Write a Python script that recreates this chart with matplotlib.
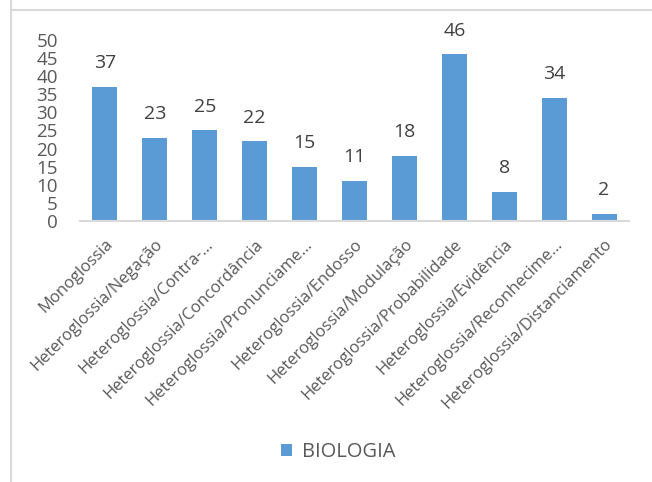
import matplotlib.pyplot as plt
from matplotlib.lines import Line2D

plt.rcParams["font.family"] = ["Open Sans", "DejaVu Sans"]

categorias = [
    "Monoglossia",
    "Heteroglossia/Negação",
    "Heteroglossia/Contra-…",
    "Heteroglossia/Concordância",
    "Heteroglossia/Pronunciame…",
    "Heteroglossia/Endosso",
    "Heteroglossia/Modulação",
    "Heteroglossia/Probabilidade",
    "Heteroglossia/Evidência",
    "Heteroglossia/Reconhecime…",
    "Heteroglossia/Distanciamento",
]
biologia = [37, 23, 25, 22, 15, 11, 18, 46, 8, 34, 2]
yticks = list(range(0, 55, 5))

azul = "#5B9BD5"
cinza = "#D9D9D9"

fig = plt.figure(figsize=(6.52, 4.82), dpi=100)
ax = fig.add_axes([80 / 652, 1 - 221 / 482, 549 / 652, 181 / 482])

x = list(range(len(categorias)))
barras = ax.bar(x, biologia, width=0.5, color=azul, label="BIOLOGIA")

for xi, v in zip(x, biologia):
    ax.annotate(str(v), (xi, v), xytext=(0, 13.5), textcoords="offset points",
                ha="center", va="baseline", fontsize=14, color="#404040")

ax.set_xlim(-0.5, len(categorias) - 0.5)
ax.set_ylim(0, 50)
ax.set_yticks(yticks)
ax.set_yticklabels([str(t) for t in yticks], fontsize=13.5, color="#595959")
ax.set_xticks(x)
ax.set_xticklabels(categorias, rotation=45, ha="right", rotation_mode="anchor",
                   fontsize=12, color="#595959")
ax.tick_params(axis="y", length=0, pad=16)
ax.tick_params(axis="x", length=0, pad=11)

for lado in ["top", "right", "left"]:
    ax.spines[lado].set_visible(False)
ax.spines["bottom"].set_color(cinza)
ax.spines["bottom"].set_linewidth(1.5)

# moldura da área do gráfico
fig.add_artist(Line2D([11 / 652, 1], [1 - 10 / 482] * 2, color=cinza, lw=1.5))
fig.add_artist(Line2D([11 / 652] * 2, [0, 1], color=cinza, lw=1.5))

fig.legend(handles=[barras], loc="center", bbox_to_anchor=(338 / 652, 1 - 452 / 482),
           frameon=False, fontsize=14.5, handlelength=0.55, handleheight=0.55,
           handletextpad=0.5, labelcolor="#595959")

fig.savefig("out.png", dpi=100)
